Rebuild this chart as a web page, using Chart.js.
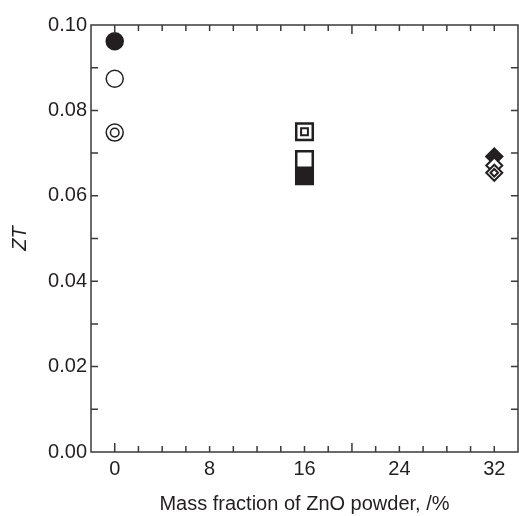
<!DOCTYPE html>
<html>
<head>
<meta charset="utf-8">
<script src="https://cdn.jsdelivr.net/npm/chart.js@4"></script>
<style>
  body { margin: 0; background: #fff; }
</style>
</head>
<body>
<canvas id="ztChart" width="519" height="516"></canvas>
<script>
const xTickLabels = [0, 8, 16, 24, 32];
const yTickLabels = [0, 0.02, 0.04, 0.06, 0.08, 0.10];

// ZT at 0 % ZnO (circles)
const circleFilled = [{ x: 0, y: 0.0962 }];
const circleOpen = [{ x: 0, y: 0.0874 }];
const circleDouble = [{ x: 0, y: 0.0748 }];
// ZT at 16 % ZnO (squares)
const squareFilled = [{ x: 16, y: 0.0647 }];
const squareOpen = [{ x: 16, y: 0.0685 }];
const squareDouble = [{ x: 16, y: 0.0750 }];
// ZT at 32 % ZnO (diamonds)
const diamondFilled = [{ x: 32, y: 0.0692 }];
const diamondOpen = [{ x: 32, y: 0.0671 }];
const diamondDouble = [{ x: 32, y: 0.0654 }];

const ink = '#231f20';

function series(data, style, radius, filled, bw) {
    return {
        data: data,
        pointStyle: style,
        pointRadius: radius,
        pointBorderWidth: bw,
        pointBorderColor: ink,
        pointBackgroundColor: filled ? ink : '#fff',
        showLine: false,
        clip: false
    };
}

// frame with inward ticks on all four sides
const framePlugin = {
    id: 'frame',
    afterDraw(chart) {
        const ctx = chart.ctx;
        const a = chart.chartArea;
        const xs = chart.scales.x, ys = chart.scales.y;
        ctx.save();
        ctx.strokeStyle = '#3a3a3a';
        ctx.lineWidth = 1.5;
        ctx.strokeRect(a.left, a.top, a.right - a.left, a.bottom - a.top);
        ctx.beginPath();
        for (let v = 0; v <= 32; v += 2) {
            const px = xs.getPixelForValue(v);
            const len = (v === 0 || v === 20) ? 9 : 6;
            ctx.moveTo(px, a.bottom); ctx.lineTo(px, a.bottom - len);
            ctx.moveTo(px, a.top); ctx.lineTo(px, a.top + len);
        }
        for (let i = 1; i < 10; i++) {
            const py = ys.getPixelForValue(i / 100);
            ctx.moveTo(a.left, py); ctx.lineTo(a.left + 7, py);
            ctx.moveTo(a.right, py); ctx.lineTo(a.right - 7, py);
        }
        ctx.stroke();
        ctx.restore();
    }
};

const font = { family: '"Liberation Sans", Arial, sans-serif', size: 20 };

// Chart.js draws the last dataset first, so the list runs from top mark to bottom mark
new Chart(document.getElementById('ztChart').getContext('2d'), {
    type: 'scatter',
    data: {
        datasets: [
            series(diamondDouble, 'rectRot', 3.8, false, 2),
            series(diamondDouble, 'rectRot', 8, false, 2),
            series(diamondOpen, 'rectRot', 8, false, 2),
            series(diamondFilled, 'rectRot', 8.5, true, 1.5),
            series(squareDouble, 'rect', 4.8, false, 2),
            series(squareDouble, 'rect', 11.7, false, 2.5),
            series(squareOpen, 'rect', 11.7, false, 2.5),
            series(squareFilled, 'rect', 11.7, true, 2.5),
            series(circleDouble, 'circle', 4.3, false, 1.5),
            series(circleDouble, 'circle', 8.5, false, 1.5),
            series(circleOpen, 'circle', 8.5, false, 1.5),
            series(circleFilled, 'circle', 8.5, true, 1.5)
        ]
    },
    options: {
        responsive: false,
        animation: false,
        events: [],
        layout: { autoPadding: false, padding: { top: 25, right: 1, left: 0, bottom: 0 } },
        plugins: {
            legend: { display: false },
            tooltip: { enabled: false }
        },
        scales: {
            x: {
                type: 'linear',
                min: -2,
                max: 34,
                grid: { display: false, drawTicks: false },
                border: { display: false },
                afterBuildTicks: function (scale) {
                    scale.ticks = xTickLabels.map(v => ({ value: v }));
                },
                afterFit: function (scale) {
                    scale.height = 64;
                    scale.paddingLeft = 0;
                    scale.paddingRight = 0;
                },
                ticks: { color: ink, font: font, padding: 5, maxRotation: 0 },
                title: {
                    display: true,
                    text: 'Mass fraction of ZnO powder, /%',
                    color: ink,
                    font: font,
                    padding: { top: 0, bottom: 0 }
                }
            },
            y: {
                type: 'linear',
                min: 0,
                max: 0.1,
                grid: { display: false, drawTicks: false },
                border: { display: false },
                afterBuildTicks: function (scale) {
                    scale.ticks = yTickLabels.map(v => ({ value: v }));
                },
                afterFit: function (scale) {
                    scale.width = 91;
                    scale.paddingTop = 0;
                    scale.paddingBottom = 0;
                },
                ticks: {
                    color: ink,
                    font: font,
                    padding: 4,
                    callback: function (value) { return value.toFixed(2); }
                },
                title: {
                    display: true,
                    text: 'ZT',
                    color: ink,
                    font: { family: font.family, size: 20, style: 'italic' },
                    padding: { top: 8, bottom: 0 }
                }
            }
        }
    },
    plugins: [framePlugin]
});
</script>
</body>
</html>
